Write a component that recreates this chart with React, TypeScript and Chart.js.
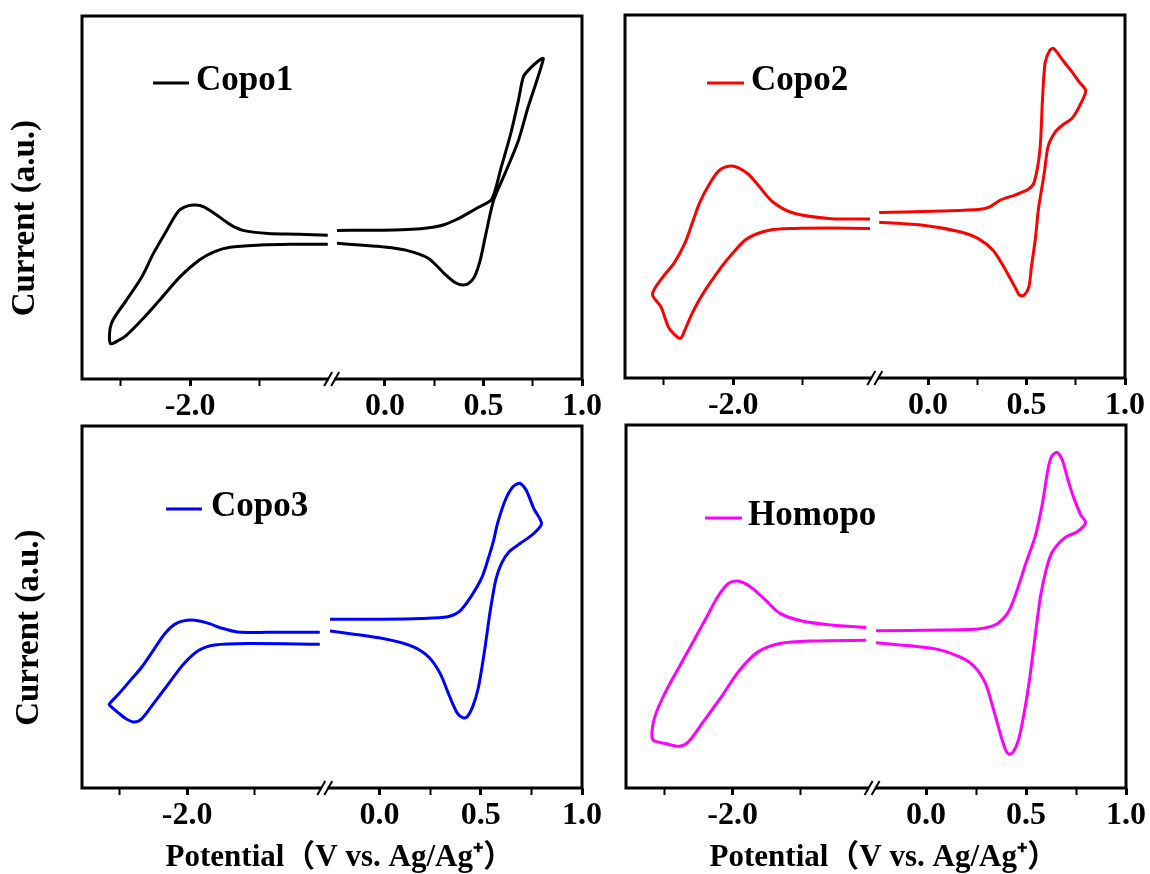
import React, { useEffect, useRef } from 'react';
import { Chart, registerables } from 'chart.js';

Chart.register(...registerables);

const FONT_FAMILY = '"Liberation Serif", "Times New Roman", "Noto Sans CJK SC", serif';

// ---------------- labels / ticks ----------------
const SERIES_NAMES = ['Copo1', 'Copo2', 'Copo3', 'Homopo'];
const SERIES_COLORS = ['#000000', '#ff0000', '#0000ff', '#ff00ff'];
const LEFT_RANGE = [-2.78, -0.98];
const RIGHT_RANGE = [-0.27, 1.0];
const LEFT_TICKS = [-2.5, -2.0, -1.5];
const RIGHT_TICKS = [0, 0.25, 0.5, 0.75, 1.0];
const LABELED_TICKS = [-2.0, 0, 0.5, 1.0];
const Y_RANGE = [0, 100];
const Y_TITLE = 'Current (a.u.)';
const X_TITLE = 'Potential（V vs. Ag/Ag⁺）';

// ---------------- data (potential V, current a.u.) ----------------
const copo1LeftV = [-1.008, -1.217, -1.438, -1.603, -1.686, -1.741, -1.824, -1.906, -1.961, -2.017, -2.072, -2.099, -2.127, -2.182, -2.265, -2.348, -2.458, -2.568, -2.576, -2.513, -2.458, -2.348, -2.21, -2.072, -1.934, -1.824, -1.713, -1.493, -1.273, -1.008];
const copo1LeftI = [39.6, 39.9, 40.1, 40.8, 42.0, 43.3, 45.6, 47.5, 47.9, 47.7, 46.7, 45.5, 43.8, 40.1, 34.6, 28.2, 21.8, 15.3, 9.8, 10.7, 12.1, 16.3, 22.2, 28.2, 32.8, 35.1, 36.3, 36.9, 37.1, 37.1];
const copo1RightV = [-0.243, -0.107, -0.011, 0.087, 0.184, 0.242, 0.3, 0.358, 0.417, 0.475, 0.542, 0.591, 0.639, 0.678, 0.703, 0.737, 0.785, 0.804, 0.766, 0.727, 0.678, 0.61, 0.552, 0.513, 0.484, 0.455, 0.426, 0.397, 0.358, 0.3, 0.222, 0.106, -0.011, -0.127, -0.243];
const copo1RightI = [40.9, 41.0, 41.0, 41.1, 41.4, 41.8, 42.5, 43.8, 45.5, 47.3, 49.5, 58.5, 67.7, 76.9, 83.3, 85.6, 87.9, 88.3, 81.4, 75.0, 65.8, 56.7, 49.3, 40.1, 32.8, 28.2, 26.4, 25.9, 26.5, 29.1, 33.2, 35.5, 36.4, 36.9, 37.4];

const copo2LeftV = [-1.015, -1.292, -1.556, -1.715, -1.82, -1.9, -2.006, -2.098, -2.177, -2.244, -2.296, -2.349, -2.429, -2.508, -2.582, -2.521, -2.468, -2.429, -2.381, -2.349, -2.296, -2.217, -2.085, -2.006, -1.9, -1.741, -1.556, -1.292, -1.015];
const copo2LeftI = [43.8, 43.9, 45.3, 48.5, 53.1, 56.4, 58.4, 57.3, 53.1, 48.1, 42.6, 37.1, 31.5, 27.8, 23.1, 19.6, 14.1, 12.2, 10.9, 13.2, 17.8, 23.3, 30.6, 34.3, 38.4, 40.7, 41.2, 41.3, 41.2];
const copo2RightV = [-0.248, -0.117, 0.069, 0.255, 0.311, 0.367, 0.441, 0.507, 0.538, 0.568, 0.581, 0.594, 0.618, 0.637, 0.683, 0.73, 0.767, 0.801, 0.767, 0.73, 0.683, 0.646, 0.609, 0.59, 0.562, 0.544, 0.525, 0.512, 0.488, 0.464, 0.441, 0.385, 0.33, 0.255, 0.162, -0.024, -0.248];
const copo2RightI = [45.6, 45.7, 46.0, 46.4, 47.1, 49.0, 50.4, 51.9, 53.8, 62.8, 76.6, 86.7, 90.3, 90.8, 87.6, 84.4, 81.6, 79.1, 74.7, 71.5, 69.7, 67.8, 63.7, 56.4, 47.1, 38.0, 30.6, 25.1, 22.8, 22.8, 25.1, 30.6, 35.2, 38.4, 40.3, 42.1, 42.9];

const copo3LeftV = [-1.017, -1.4, -1.626, -1.74, -1.853, -1.966, -2.08, -2.165, -2.25, -2.335, -2.42, -2.505, -2.576, -2.576, -2.505, -2.448, -2.391, -2.335, -2.25, -2.136, -2.023, -1.91, -1.796, -1.541, -1.017];
const copo3LeftI = [43.0, 43.0, 43.1, 44.1, 45.6, 46.4, 45.5, 42.7, 38.1, 33.5, 29.8, 26.1, 23.3, 22.9, 20.6, 19.0, 18.2, 19.2, 23.3, 28.9, 34.4, 38.1, 39.5, 39.9, 39.7];
const copo3RightV = [-0.244, 0.017, 0.206, 0.338, 0.394, 0.451, 0.507, 0.545, 0.564, 0.583, 0.621, 0.659, 0.693, 0.724, 0.762, 0.8, 0.762, 0.696, 0.639, 0.602, 0.574, 0.545, 0.517, 0.489, 0.46, 0.432, 0.413, 0.385, 0.347, 0.3, 0.243, 0.168, 0.017, -0.244];
const copo3RightI = [46.6, 46.6, 46.8, 47.3, 48.7, 52.8, 58.3, 64.8, 68.5, 73.1, 79.5, 83.2, 84.2, 82.3, 77.2, 73.1, 70.3, 67.6, 65.2, 62.0, 57.4, 48.2, 37.2, 27.9, 22.4, 19.6, 19.4, 20.6, 25.2, 31.6, 36.2, 39.0, 41.3, 43.4];

const homoLeftV = [-1.023, -1.278, -1.492, -1.653, -1.761, -1.868, -1.962, -2.029, -2.109, -2.19, -2.27, -2.377, -2.485, -2.552, -2.584, -2.584, -2.485, -2.391, -2.324, -2.216, -2.083, -1.948, -1.814, -1.653, -1.411, -1.023];
const homoLeftI = [44.2, 44.9, 46.0, 48.1, 51.8, 55.4, 57.0, 56.4, 52.7, 47.1, 41.6, 34.3, 26.9, 21.4, 17.3, 13.3, 12.2, 11.5, 12.7, 18.2, 25.1, 32.5, 37.5, 39.8, 40.5, 40.7];
const homoRightV = [-0.25, 0.077, 0.261, 0.352, 0.407, 0.444, 0.499, 0.545, 0.582, 0.609, 0.627, 0.655, 0.682, 0.71, 0.737, 0.774, 0.798, 0.756, 0.701, 0.664, 0.627, 0.6, 0.572, 0.545, 0.517, 0.49, 0.462, 0.435, 0.416, 0.398, 0.371, 0.334, 0.297, 0.242, 0.169, 0.04, -0.25];
const homoRightI = [43.3, 43.5, 43.8, 45.1, 48.1, 52.7, 61.9, 69.2, 78.4, 87.6, 91.3, 92.5, 90.3, 84.8, 80.2, 75.2, 73.1, 70.6, 69.2, 67.4, 64.6, 60.0, 52.7, 41.6, 29.7, 20.5, 13.2, 9.9, 9.3, 10.4, 15.0, 22.3, 28.8, 33.4, 36.1, 38.4, 40.0];

// ---------------- layout (page px) ----------------
const TICK_FONT_SIZE = 32;
const X_TITLE_SIZE = 31;
const X_TITLE_MID = 858;
const Y_TITLE_SIZE = 33;
const LEGEND_FONT_SIZE = 35;

type Panel = {
  idx: number;
  leftV: number[]; leftI: number[]; rightV: number[]; rightI: number[];
  box: { left: number; top: number; width: number; height: number };
  area: { l: number; t: number; r: number; b: number };
  weights: [number, number];
  yTitlePad: number | null;
  xTitle: boolean;
  legend: { dx: number; dy: number; len: number; gap: number };
};

const PANELS: Panel[] = [
  {
    idx: 0, leftV: copo1LeftV, leftI: copo1LeftI, rightV: copo1RightV, rightI: copo1RightI,
    box: { left: 0, top: 0, width: 610, height: 430 },
    area: { l: 82, t: 16, r: 582, b: 379 },
    weights: [217.7, 218.3], yTitlePad: 6, xTitle: false,
    legend: { dx: 71, dy: 67, len: 36, gap: 7 },
  },
  {
    idx: 1, leftV: copo2LeftV, leftI: copo2LeftI, rightV: copo2RightV, rightI: copo2RightI,
    box: { left: 600, top: 0, width: 550, height: 430 },
    area: { l: 625, t: 15, r: 1125, b: 378 },
    weights: [227, 227.3], yTitlePad: null, xTitle: false,
    legend: { dx: 82, dy: 68, len: 37, gap: 7 },
  },
  {
    idx: 2, leftV: copo3LeftV, leftI: copo3LeftI, rightV: copo3RightV, rightI: copo3RightI,
    box: { left: 0, top: 420, width: 610, height: 454 },
    area: { l: 82, t: 426, r: 582, b: 788 },
    weights: [211.7, 224.3], yTitlePad: 10, xTitle: true,
    legend: { dx: 84, dy: 83, len: 36, gap: 9 },
  },
  {
    idx: 3, leftV: homoLeftV, leftI: homoLeftI, rightV: homoRightV, rightI: homoRightI,
    box: { left: 600, top: 420, width: 550, height: 454 },
    area: { l: 626, t: 425, r: 1126, b: 788 },
    weights: [223.6, 230.7], yTitlePad: null, xTitle: true,
    legend: { dx: 79, dy: 93, len: 37, gap: 6 },
  },
];

const isLabeled = (v: number) => LABELED_TICKS.some((l) => Math.abs(l - v) < 1e-6);

const framePlugin = {
  id: 'frame',
  afterDraw(chart: any) {
    const { ctx, chartArea: a } = chart;
    ctx.save();
    ctx.strokeStyle = '#000';
    ctx.lineWidth = 3;
    ctx.strokeRect(a.left, a.top, a.right - a.left, a.bottom - a.top);
    // axis break marks
    const xb = chart.scales.xL.right;
    ctx.fillStyle = '#fff';
    ctx.fillRect(xb - 3, a.bottom - 3, 6, 6);
    ctx.lineWidth = 2;
    ctx.beginPath();
    for (const d of [-3.5, 3.5]) {
      ctx.moveTo(xb + d - 4, a.bottom + 7);
      ctx.lineTo(xb + d + 4, a.bottom - 7);
    }
    ctx.stroke();
    ctx.restore();
  },
};

const insetLegendPlugin = {
  id: 'insetLegend',
  afterDraw(chart: any, _args: any, opts: any) {
    const { ctx, chartArea: a } = chart;
    const ds = chart.data.datasets[0];
    const x0 = a.left + opts.dx;
    const y0 = a.top + opts.dy;
    ctx.save();
    ctx.strokeStyle = ds.borderColor;
    ctx.lineWidth = 3;
    ctx.beginPath();
    ctx.moveTo(x0, y0);
    ctx.lineTo(x0 + opts.len, y0);
    ctx.stroke();
    ctx.fillStyle = '#000';
    ctx.font = `bold ${LEGEND_FONT_SIZE}px ${FONT_FAMILY}`;
    ctx.textBaseline = 'alphabetic';
    ctx.textAlign = 'left';
    ctx.fillText(ds.label, x0 + opts.len + opts.gap, y0 + 7);
    ctx.restore();
  },
};

function buildConfig(p: Panel): any {
  const toPts = (V: number[], I: number[]) => V.map((x, i) => ({ x, y: I[i] }));
  const color = SERIES_COLORS[p.idx];
  const hasY = p.yTitlePad !== null;
  const pad = {
    left: 0,
    top: p.area.t - p.box.top,
    right: p.box.left + p.box.width - p.area.r,
    bottom: 0,
  };
  const bRel = p.area.b - p.box.top;
  let xHeight: number;
  let titlePadTop = 0;
  if (p.xTitle) {
    xHeight = 45;
    titlePadTop = X_TITLE_MID - p.box.top - (bRel + xHeight) - X_TITLE_SIZE / 2;
    pad.bottom = p.box.height - (bRel + xHeight + X_TITLE_SIZE + titlePadTop);
  } else {
    xHeight = p.box.height - bRel;
  }
  const yWidth = p.area.l - p.box.left;

  const tickFont = { family: FONT_FAMILY, size: TICK_FONT_SIZE, weight: 'bold' as const, lineHeight: 1.2 };
  const xScale = (range: number[], ticks: number[], weight: number) => ({
    type: 'linear',
    position: 'bottom',
    stack: 'x',
    stackWeight: weight,
    min: range[0],
    max: range[1],
    afterBuildTicks: (s: any) => {
      s.ticks = ticks.map((v) => ({ value: v }));
    },
    afterFit: (s: any) => {
      s.height = xHeight;
    },
    ticks: {
      autoSkip: false,
      maxRotation: 0,
      minRotation: 0,
      color: '#000',
      padding: 2,
      font: tickFont,
      callback: (v: any) => (isLabeled(Number(v)) ? Number(v).toFixed(1) : ''),
    },
    grid: {
      display: true,
      drawOnChartArea: false,
      drawTicks: true,
      tickLength: 7,
      tickColor: '#000',
      tickWidth: (c: any) => (c.tick && isLabeled(c.tick.value) ? 3 : 2),
    },
    border: { display: false },
  });

  return {
    type: 'scatter',
    data: {
      datasets: [
        {
          label: SERIES_NAMES[p.idx],
          data: toPts(p.leftV, p.leftI),
          xAxisID: 'xL',
          yAxisID: 'y',
          showLine: true,
          borderColor: color,
          backgroundColor: color,
          borderWidth: 3,
          pointRadius: 0,
          tension: 0.3,
          borderJoinStyle: 'round',
        },
        {
          label: SERIES_NAMES[p.idx],
          data: toPts(p.rightV, p.rightI),
          xAxisID: 'xR',
          yAxisID: 'y',
          showLine: true,
          borderColor: color,
          backgroundColor: color,
          borderWidth: 3,
          pointRadius: 0,
          tension: 0.25,
          borderJoinStyle: 'round',
        },
      ],
    },
    options: {
      responsive: false,
      animation: false,
      devicePixelRatio: 1,
      events: [],
      layout: { padding: pad },
      scales: {
        xL: xScale(LEFT_RANGE, LEFT_TICKS, p.weights[0]),
        xR: xScale(RIGHT_RANGE, RIGHT_TICKS, p.weights[1]),
        y: {
          type: 'linear',
          position: 'left',
          display: true,
          min: Y_RANGE[0],
          max: Y_RANGE[1],
          ticks: { display: false },
          grid: { display: false, drawTicks: false },
          border: { display: false },
          afterFit: (s: any) => {
            s.width = yWidth;
          },
          title: {
            display: hasY,
            text: Y_TITLE + '\u00a0\u00a0\u00a0\u00a0\u00a0',
            color: '#000',
            font: { family: FONT_FAMILY, size: Y_TITLE_SIZE, weight: 'bold', lineHeight: 1.2 },
            padding: { top: hasY ? (p.yTitlePad as number) : 0, bottom: 0 },
          },
        },
      },
      plugins: {
        legend: { display: false },
        tooltip: { enabled: false },
        title: {
          display: p.xTitle,
          text: '\u00a0\u00a0' + X_TITLE,
          position: 'bottom',
          fullSize: false,
          align: 'center',
          color: '#000',
          font: { family: FONT_FAMILY, size: X_TITLE_SIZE, weight: 'bold', lineHeight: 1 },
          padding: { top: titlePadTop, bottom: 0 },
        },
        insetLegend: p.legend,
      },
    },
    plugins: [framePlugin, insetLegendPlugin],
  };
}

function PanelChart({ panel }: { panel: Panel }) {
  const ref = useRef<HTMLCanvasElement>(null);
  useEffect(() => {
    if (!ref.current) return;
    const chart = new Chart(ref.current, buildConfig(panel));
    return () => chart.destroy();
  }, [panel]);
  const b = panel.box;
  return (
    <canvas
      ref={ref}
      width={b.width}
      height={b.height}
      style={{ position: 'absolute', left: b.left, top: b.top, width: b.width, height: b.height }}
    />
  );
}

export default function App() {
  return (
    <div
      style={{
        position: 'absolute',
        left: 0,
        top: 0,
        width: 1150,
        height: 874,
        background: '#ffffff',
        overflow: 'hidden',
      }}
    >
      {PANELS.map((p) => (
        <PanelChart key={p.idx} panel={p} />
      ))}
    </div>
  );
}
